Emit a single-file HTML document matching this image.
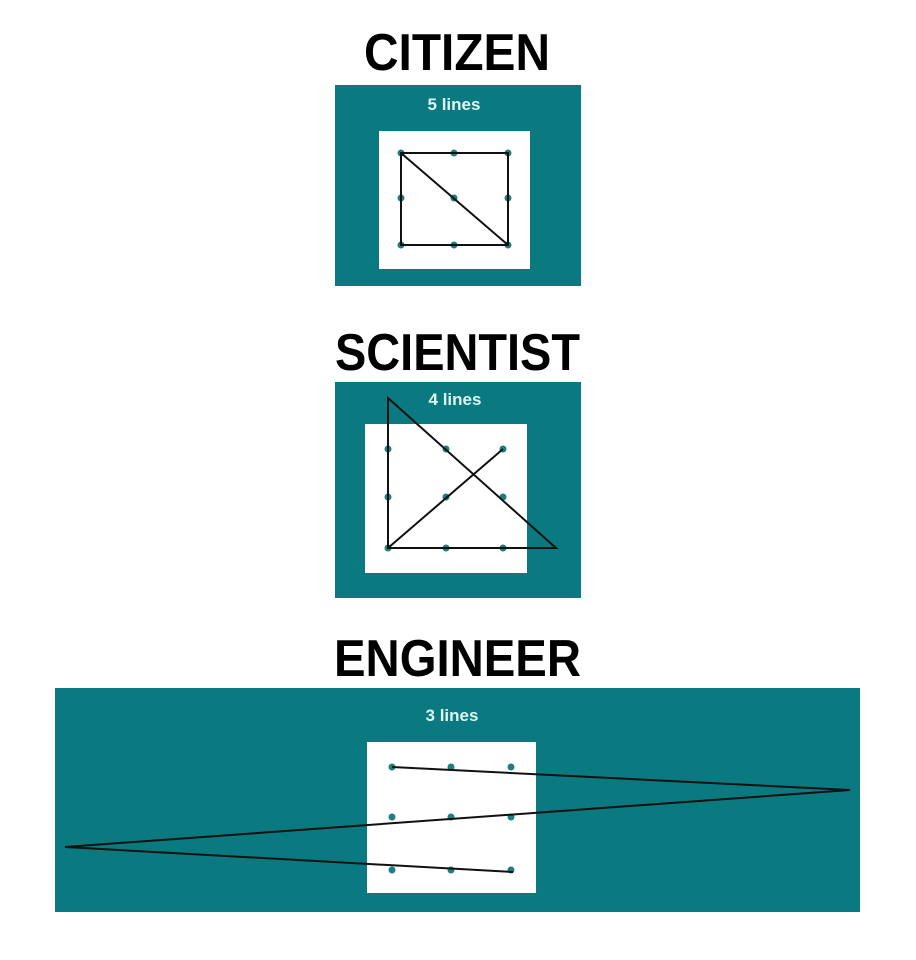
<!DOCTYPE html>
<html><head><style>body{margin:0;background:#fff}svg{display:block}</style></head>
<body>
<svg width="916" height="960" viewBox="0 0 916 960" xmlns="http://www.w3.org/2000/svg">
<g font-family="Liberation Sans, sans-serif" font-weight="bold" fill="#000" font-size="52">
<text x="364" y="70" textLength="186" lengthAdjust="spacingAndGlyphs">CITIZEN</text>
<text x="335" y="370" textLength="245" lengthAdjust="spacingAndGlyphs">SCIENTIST</text>
<text x="334" y="676" textLength="247" lengthAdjust="spacingAndGlyphs">ENGINEER</text>
</g>
<g fill="#0b7a80">
<rect x="335" y="85" width="246" height="201"/>
<rect x="335" y="382" width="246" height="216"/>
<rect x="55" y="688" width="805" height="224"/>
</g>
<g fill="#fff">
<rect x="379" y="131" width="151" height="138"/>
<rect x="365" y="424" width="162" height="149"/>
<rect x="367" y="742" width="169" height="151"/>
</g>
<g font-family="Liberation Sans, sans-serif" font-weight="bold" fill="#dff5f5" font-size="17" text-anchor="middle">
<text x="454" y="110">5 lines</text>
<text x="455" y="405">4 lines</text>
<text x="452" y="721">3 lines</text>
</g>
<g fill="#1f7f7f">
<circle cx="401" cy="153" r="3.5"/><circle cx="454" cy="153" r="3.5"/><circle cx="508" cy="153" r="3.5"/>
<circle cx="401" cy="198" r="3.5"/><circle cx="454" cy="198" r="3.5"/><circle cx="508" cy="198" r="3.5"/>
<circle cx="401" cy="245" r="3.5"/><circle cx="454" cy="245" r="3.5"/><circle cx="508" cy="245" r="3.5"/>
<circle cx="388" cy="449" r="3.5"/><circle cx="446" cy="449" r="3.5"/><circle cx="503" cy="449" r="3.5"/>
<circle cx="388" cy="497" r="3.5"/><circle cx="446" cy="497" r="3.5"/><circle cx="503" cy="497" r="3.5"/>
<circle cx="388" cy="548" r="3.5"/><circle cx="446" cy="548" r="3.5"/><circle cx="503" cy="548" r="3.5"/>
<circle cx="392" cy="767" r="3.5"/><circle cx="451" cy="767" r="3.5"/><circle cx="511" cy="767" r="3.5"/>
<circle cx="392" cy="817" r="3.5"/><circle cx="451" cy="817" r="3.5"/><circle cx="511" cy="817" r="3.5"/>
<circle cx="392" cy="870" r="3.5"/><circle cx="451" cy="870" r="3.5"/><circle cx="511" cy="870" r="3.5"/>
</g>
<g stroke="#111" stroke-width="2" fill="none">
<path d="M401 153 H508 V245 H401 Z M401 153 L508 245"/>
<path d="M388 398 V548 H556 Z M388 548 L503 449"/>
<path d="M392 767 L850 790 L65 847 L513 872"/>
</g>
</svg>
</body></html>
